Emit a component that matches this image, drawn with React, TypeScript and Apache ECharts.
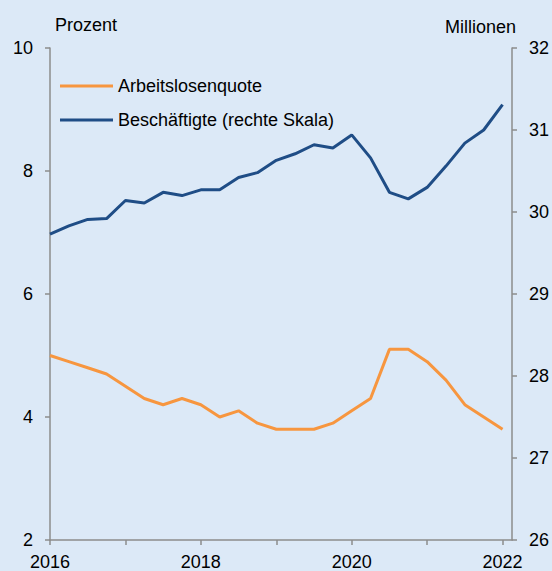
import React, { useEffect, useRef } from "react";
import * as echarts from "echarts";

const quarters: number[] = Array.from({ length: 25 }, (_, i) => 2016 + i / 4);
const arbeitslosenquote: number[] = [5.0, 4.9, 4.8, 4.7, 4.5, 4.3, 4.2, 4.3, 4.2, 4.0, 4.1, 3.9, 3.8, 3.8, 3.8, 3.9, 4.1, 4.3, 5.1, 5.1, 4.9, 4.6, 4.2, 4.0, 3.8];
const beschaeftigte: number[] = [29.73, 29.83, 29.91, 29.92, 30.14, 30.11, 30.24, 30.2, 30.27, 30.27, 30.42, 30.48, 30.63, 30.71, 30.82, 30.78, 30.94, 30.66, 30.24, 30.16, 30.3, 30.56, 30.84, 31.0, 31.31];
const xLabelYears: number[] = [2016, 2018, 2020, 2022];
const xTickYears: number[] = [2016, 2017, 2018, 2019, 2020, 2021, 2022];
const seriesNames = ["Arbeitslosenquote", "Beschäftigte (rechte Skala)"];

const FONT = "'Liberation Sans', Arial, sans-serif";
const AXIS_COLOR = "#8c8c8c";

export default function App() {
  const ref = useRef<HTMLDivElement>(null);
  useEffect(() => {
    if (!ref.current) return;
    const chart = echarts.init(ref.current, null, { renderer: "svg" });
    const axisCommon = {
      axisLine: { show: true, lineStyle: { color: AXIS_COLOR, width: 1.5 } },
      axisTick: { show: true, length: 5, lineStyle: { color: AXIS_COLOR, width: 1.5 } },
      splitLine: { show: false },
      axisLabel: { color: "#000", fontFamily: FONT, fontSize: 18 },
    };
    chart.setOption({
      animation: false,
      backgroundColor: "#dce9f7",
      textStyle: { fontFamily: FONT },
      grid: { left: 50, right: 39, top: 48, bottom: 29, containLabel: false },
      legend: {
        orient: "vertical",
        left: 60,
        top: 77,
        padding: 0,
        itemGap: 16,
        itemWidth: 53,
        itemHeight: 3,
        icon: "rect",
        textStyle: { color: "#000", fontFamily: FONT, fontSize: 18 },
        data: seriesNames,
      },
      graphic: [
        { type: "text", left: 55, top: 16, style: { text: "Prozent", fill: "#000", font: `18px ${FONT}` } },
        { type: "text", right: 36, top: 18, style: { text: "Millionen", fill: "#000", font: `18px ${FONT}` } },
      ],
      xAxis: {
        type: "value",
        min: 2016,
        max: 2022.125,
        ...axisCommon,
        axisTick: { ...axisCommon.axisTick, customValues: xTickYears },
        axisLabel: { ...axisCommon.axisLabel, margin: 13, customValues: xLabelYears, formatter: (v: number) => String(v) },
      },
      yAxis: [
        {
          type: "value",
          min: 2,
          max: 10,
          interval: 2,
          position: "left",
          ...axisCommon,
          axisLabel: { ...axisCommon.axisLabel, margin: 17 },
        },
        {
          type: "value",
          min: 26,
          max: 32,
          interval: 1,
          position: "right",
          ...axisCommon,
          axisLabel: { ...axisCommon.axisLabel, margin: 17 },
        },
      ],
      series: [
        {
          name: seriesNames[0],
          type: "line",
          yAxisIndex: 0,
          symbol: "none",
          lineStyle: { color: "#f7963f", width: 3 },
          itemStyle: { color: "#f7963f" },
          data: quarters.map((q, i) => [q, arbeitslosenquote[i]]),
        },
        {
          name: seriesNames[1],
          type: "line",
          yAxisIndex: 1,
          symbol: "none",
          lineStyle: { color: "#1f4d86", width: 3 },
          itemStyle: { color: "#1f4d86" },
          data: quarters.map((q, i) => [q, beschaeftigte[i]]),
        },
      ],
    });
    return () => chart.dispose();
  }, []);
  return <div ref={ref} style={{ position: "fixed", left: 0, top: 0, width: 552, height: 571 }} />;
}
